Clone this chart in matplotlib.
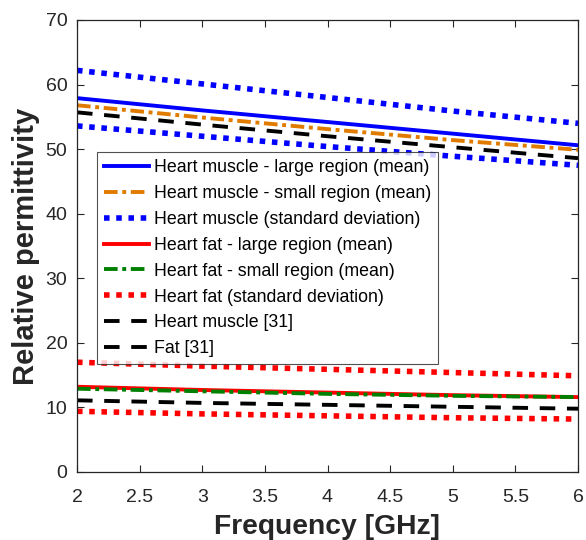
import numpy as np
import matplotlib.pyplot as plt

freq = [2, 3, 4, 5, 6]

muscle_large = [57.9, 56.0, 54.2, 52.4, 50.6]
muscle_small = [56.8, 54.9, 53.1, 51.4, 49.9]
muscle_std_hi = [62.2, 60.1, 58.0, 55.9, 54.0]
muscle_std_lo = [53.6, 52.0, 50.4, 48.9, 47.5]
fat_large = [13.2, 12.7, 12.3, 11.9, 11.6]
fat_small = [12.9, 12.5, 12.1, 11.8, 11.6]
fat_std_hi = [17.0, 16.4, 15.9, 15.4, 14.9]
fat_std_lo = [9.4, 9.0, 8.7, 8.4, 8.2]
ref_muscle = [55.7, 53.8, 52.0, 50.3, 48.6]
ref_fat = [11.1, 10.7, 10.4, 10.1, 9.8]

labels = ['Heart muscle - large region (mean)',
          'Heart muscle - small region (mean)',
          'Heart muscle (standard deviation)',
          'Heart fat - large region (mean)',
          'Heart fat - small region (mean)',
          'Heart fat (standard deviation)',
          'Heart muscle [31]',
          'Fat [31]']

plt.rcParams['font.family'] = 'Liberation Sans'

fig = plt.figure(figsize=(5.86, 5.40), dpi=100)
ax = fig.add_axes([77/586, 1-472/540, (578-77)/586, (472-20)/540])

lw = 2.8
dlw = 4.0
dot = (0, (1, 1.2))
dashdot = (0, (3.5, 1.2, 1, 1.2))
ax.plot(freq, muscle_large, color='#0000ff', lw=lw, label=labels[0])
ax.plot(freq, muscle_small, color='#e07b00', lw=lw, ls=dashdot, label=labels[1])
ax.plot(freq, muscle_std_hi, color='#0000ff', lw=dlw, ls=dot, label=labels[2])
ax.plot(freq, muscle_std_lo, color='#0000ff', lw=dlw, ls=dot)
ax.plot(freq, fat_large, color='#ff0000', lw=lw, label=labels[3])
ax.plot(freq, fat_small, color='#008000', lw=lw, ls=dashdot, label=labels[4])
ax.plot(freq, fat_std_hi, color='#ff0000', lw=dlw, ls=dot, label=labels[5])
ax.plot(freq, fat_std_lo, color='#ff0000', lw=dlw, ls=dot)
ax.plot(freq, ref_muscle, color='black', lw=lw, ls=(0, (4, 3)), label=labels[6])
ax.plot(freq, ref_fat, color='black', lw=lw, ls=(0, (4, 3)), label=labels[7])

ax.set_xlim(2, 6)
ax.set_ylim(0, 70)
ax.set_xticks(np.arange(2, 6.01, 0.5))
ax.set_xticklabels(['2', '2.5', '3', '3.5', '4', '4.5', '5', '5.5', '6'])
ax.set_yticks(range(0, 71, 10))
ax.tick_params(direction='in', top=True, right=True, labelsize=14,
               colors='#262626', length=5, width=0.8, pad=7)
ax.tick_params(axis='x', pad=12)
for s in ax.spines.values():
    s.set_color('#262626')
    s.set_linewidth(0.9)

ax.set_xlabel('Frequency [GHz]', fontsize=20.3, fontweight='bold', color='#262626',
              labelpad=6)
ax.set_ylabel('Relative permittivity', fontsize=21, fontweight='bold', color='#262626',
              labelpad=4)

leg = ax.legend(loc='upper left', bbox_to_anchor=(20/501, 320/452), fontsize=12.8,
                frameon=True, fancybox=False, edgecolor='#262626',
                handlelength=2.5, borderpad=0.4, labelspacing=0.5,
                handletextpad=0.3, borderaxespad=0)
leg.get_frame().set_linewidth(0.8)

fig.savefig('out.png', dpi=100)
